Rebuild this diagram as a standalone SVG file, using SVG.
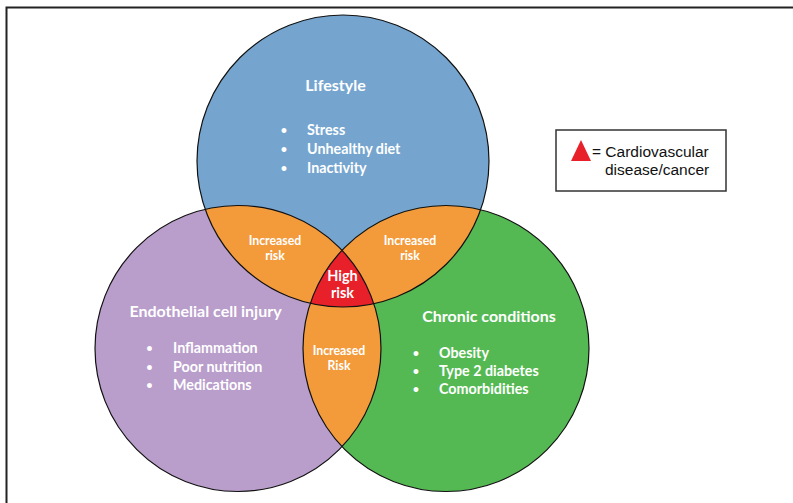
<svg xmlns="http://www.w3.org/2000/svg" width="793" height="503" viewBox="0 0 793 503">
<style>
.ttl{font-family:Lato,"Open Sans","Liberation Sans",sans-serif;font-weight:bold;fill:#fff;font-size:16px}
.itm{font-family:Lato,"Open Sans","Liberation Sans",sans-serif;font-weight:bold;fill:#fff;font-size:14.3px}
.bul{font-family:Lato,"Open Sans","Liberation Sans",sans-serif;font-weight:bold;fill:#fff;font-size:11px;text-anchor:middle}
.ovl{font-family:Lato,"Open Sans","Liberation Sans",sans-serif;font-weight:bold;fill:#fff;font-size:12.3px;text-anchor:middle}
.hi{font-family:Lato,"Open Sans","Liberation Sans",sans-serif;font-weight:bold;fill:#fff;font-size:14.5px;text-anchor:middle}
.lg{font-family:"Liberation Sans",Arial,sans-serif;fill:#111;font-size:15.5px}
.edge{fill:none;stroke:#111;stroke-width:1.2}
</style>
<defs>
<clipPath id="cpTop"><circle cx="343" cy="161" r="146"/></clipPath>
<clipPath id="cpL"><circle cx="238" cy="348.5" r="143"/></clipPath>
<clipPath id="cpR"><circle cx="446" cy="348.5" r="143"/></clipPath>
</defs>
<rect x="0" y="0" width="793" height="503" fill="#fff"/>
<path d="M6.5,503 V7.5 H793" fill="none" stroke="#222" stroke-width="2"/>

<g id="lifestyle">
<circle cx="343" cy="161" r="146" fill="#75A5CF"/>
</g>
<g id="endothelial">
<circle cx="238" cy="348.5" r="143" fill="#B99DCB"/>
</g>
<g id="chronic">
<circle cx="446" cy="348.5" r="143" fill="#55B953"/>
</g>
<g id="overlap-top-left">
<circle cx="343" cy="161" r="146" fill="#F39A3B" clip-path="url(#cpL)"/>
</g>
<g id="overlap-top-right">
<circle cx="343" cy="161" r="146" fill="#F39A3B" clip-path="url(#cpR)"/>
</g>
<g id="overlap-bottom">
<circle cx="238" cy="348.5" r="143" fill="#F39A3B" clip-path="url(#cpR)"/>
</g>
<g id="high-risk">
<g clip-path="url(#cpTop)"><circle cx="238" cy="348.5" r="143" fill="#E8202A" clip-path="url(#cpR)"/></g>
</g>
<g id="outlines">
<circle class="edge" cx="343" cy="161" r="146"/>
<circle class="edge" cx="238" cy="348.5" r="143"/>
<circle class="edge" cx="446" cy="348.5" r="143"/>
</g>

<g id="lifestyle-text">
<text class="ttl" x="335.5" y="91" text-anchor="middle">Lifestyle</text>
<text class="bul" x="284" y="134">•</text><text class="itm" x="307" y="135">Stress</text>
<text class="bul" x="284" y="153">•</text><text class="itm" x="307" y="154">Unhealthy diet</text>
<text class="bul" x="284" y="171.5">•</text><text class="itm" x="307" y="172.5">Inactivity</text>
</g>
<g id="endothelial-text">
<text class="ttl" x="205.5" y="316.5" text-anchor="middle">Endothelial cell injury</text>
<text class="bul" x="149.5" y="352">•</text><text class="itm" x="173" y="353">Inflammation</text>
<text class="bul" x="149.5" y="370.5">•</text><text class="itm" x="173" y="371.5">Poor nutrition</text>
<text class="bul" x="149.5" y="389">•</text><text class="itm" x="173" y="390">Medications</text>
</g>
<g id="chronic-text">
<text class="ttl" x="489" y="321.5" text-anchor="middle">Chronic conditions</text>
<text class="bul" x="416" y="356.5">•</text><text class="itm" x="439" y="357.5">Obesity</text>
<text class="bul" x="416" y="374.5">•</text><text class="itm" x="439" y="375.5">Type 2 diabetes</text>
<text class="bul" x="416" y="393">•</text><text class="itm" x="439" y="394">Comorbidities</text>
</g>
<g id="overlap-text">
<text class="ovl" x="275" y="245">Increased</text><text class="ovl" x="275" y="260">risk</text>
<text class="ovl" x="410" y="245">Increased</text><text class="ovl" x="410" y="260">risk</text>
<text class="ovl" x="339" y="355">Increased</text><text class="ovl" x="339" y="370">Risk</text>
<text class="hi" x="342.5" y="280.5">High</text><text class="hi" x="342.5" y="298">risk</text>
</g>

<g id="legend">
<rect x="556" y="130" width="170" height="61" fill="#fff" stroke="#333" stroke-width="1.5"/>
<polygon points="571,161 581,140 591,161" fill="#E8202A"/>
<text class="lg" x="592" y="157">= Cardiovascular</text>
<text class="lg" x="605" y="175">disease/cancer</text>
</g>
<g id="connectors"/>
</svg>
